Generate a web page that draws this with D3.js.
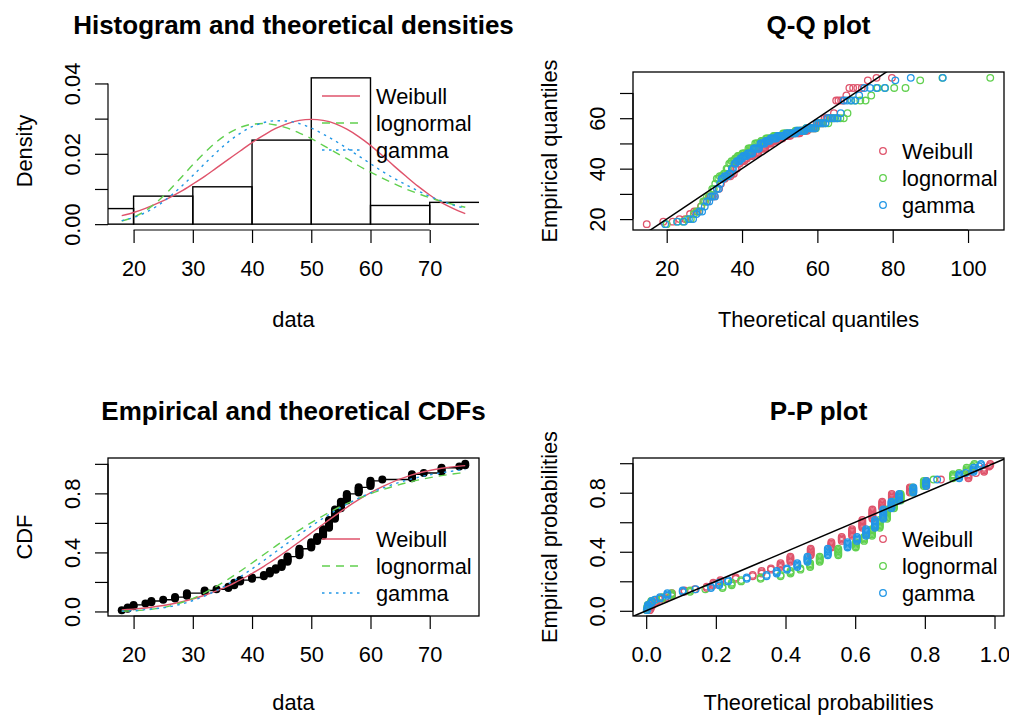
<!DOCTYPE html>
<html>
<head>
<meta charset="utf-8">
<script src="https://cdn.jsdelivr.net/npm/d3@7"></script>
<style>
  body { margin: 0; background: #fff; }
  svg text { font-family: "Liberation Sans", Arial, sans-serif; fill: #000; }
</style>
</head>
<body>
<div class="chart"></div>
<script>
var svgWidth = 1009;
var svgHeight = 715;
var baseFont = 21.8;
var titleFont = 26;

// observed data, sorted unique values and how many times each occurs
var dataValues = [18, 19, 20, 22, 23, 25, 27, 29, 32, 34, 36, 37, 38, 40, 42, 43, 44, 45, 46, 48,
  50, 51, 52, 53, 54, 55, 56, 58, 60, 62, 67, 69, 72, 75, 76];
var dataCounts = [1, 2, 2, 1, 2, 1, 2, 3, 2, 1, 2, 3, 2, 2, 2, 3, 2, 4, 5, 6,
  5, 4, 6, 7, 8, 6, 6, 5, 5, 1, 4, 1, 4, 1, 2];

// histogram
var histBreaks = [10, 20, 30, 40, 50, 60, 70, 80];
var histCounts = [5, 9, 12, 27, 47, 6, 7];

// fitted distributions
var distNames = ["Weibull", "lognormal", "gamma"];
var distColors = ["#DF536B", "#61D04F", "#2297E6"];
var distDash = [null, "8,6", "2.5,4.5"];

// fitted densities
var densX = [18, 20, 22, 24, 26, 28, 30, 32, 34, 36, 38, 40, 42, 44, 46, 48, 50, 52, 54, 56,
  58, 60, 62, 64, 66, 68, 70, 72, 74, 76];
var densWeibull = [.0024, .0033, .0045, .0059, .0075, .0093, .0114, .0136, .0160, .0184, .0208, .0232,
  .0253, .0272, .0286, .0295, .0298, .0295, .0286, .0270, .0249, .0224, .0195, .0165, .0136, .0108,
  .0083, .0061, .0044, .0030];
var densLnorm = [.0009, .0020, .0038, .0064, .0096, .0132, .0169, .0203, .0234, .0258, .0275, .0284,
  .0286, .0282, .0273, .0259, .0243, .0224, .0205, .0186, .0166, .0148, .0131, .0115, .0100, .0087,
  .0075, .0065, .0056, .0048];
var densGamma = [.0010, .0019, .0033, .0052, .0077, .0106, .0138, .0172, .0204, .0234, .0258, .0277,
  .0289, .0294, .0293, .0286, .0273, .0256, .0237, .0216, .0194, .0172, .0150, .0130, .0112, .0095,
  .0079, .0066, .0054, .0045];

// fitted CDFs at each of dataValues
var cdfWeibull = [.0103, .0129, .0160, .0238, .0287, .0404, .0554, .0741, .1099, .1395, .1738, .1928,
  .2131, .2571, .3057, .3314, .3582, .3858, .4140, .4723, .5316, .5614, .5911, .6205, .6494, .6776,
  .7052, .7570, .8043, .8462, .9252, .9468, .9701, .9845, .9878];
var cdfLnorm = [.0016, .0027, .0043, .0101, .0145, .0273, .0465, .0728, .1260, .1699, .2191, .2454,
  .2726, .3286, .3858, .4143, .4427, .4708, .4982, .5515, .6017, .6256, .6484, .6705, .6915, .7114,
  .7306, .7656, .7970, .8249, .8807, .8981, .9200, .9374, .9423];
var cdfGamma = [.0023, .0035, .0051, .0128, .0167, .0246, .0397, .0608, .1048, .1421, .1860, .2096,
  .2353, .2887, .3455, .3747, .4042, .4338, .4630, .5214, .5782, .6053, .6314, .6566, .6807, .7041,
  .7263, .7671, .8038, .8353, .8987, .9173, .9399, .9568, .9614];

// theoretical quantiles, one per sorted observation
var qWeibull = [14.7, 19.1, 21.6, 23.4, 24.9, 26.2, 27.3, 28.2, 29.1, 29.9, 30.7, 31.4, 32.1, 32.7,
  33.3, 33.9, 34.4, 34.9, 35.4, 35.9, 36.4, 36.9, 37.3, 37.8, 38.2, 38.6, 39.0, 39.4, 39.8, 40.2,
  40.6, 40.9, 41.3, 41.6, 42.0, 42.3, 42.7, 43.0, 43.4, 43.7, 44.0, 44.3, 44.7, 45.0, 45.3, 45.6,
  45.9, 46.2, 46.5, 46.8, 47.1, 47.4, 47.7, 48.0, 48.3, 48.6, 48.9, 49.2, 49.5, 49.8, 50.1, 50.4,
  50.7, 51.0, 51.3, 51.6, 51.9, 52.2, 52.5, 52.8, 53.1, 53.4, 53.7, 54.0, 54.3, 54.7, 55.0, 55.3,
  55.6, 55.9, 56.3, 56.6, 56.9, 57.3, 57.6, 58.0, 58.3, 58.7, 59.1, 59.5, 59.8, 60.2, 60.6, 61.1,
  61.5, 61.9, 62.4, 62.9, 63.4, 63.9, 64.4, 65.0, 65.6, 66.3, 67.0, 67.7, 68.5, 69.5, 70.6, 71.8,
  73.4, 75.7, 79.8];
var qLnorm = [20.0, 22.8, 24.3, 25.4, 26.4, 27.2, 27.9, 28.6, 29.2, 29.7, 30.2, 30.7, 31.2, 31.7,
  32.1, 32.5, 32.9, 33.3, 33.7, 34.1, 34.5, 34.8, 35.2, 35.6, 35.9, 36.2, 36.6, 36.9, 37.2, 37.6,
  37.9, 38.2, 38.5, 38.9, 39.2, 39.5, 39.8, 40.1, 40.4, 40.7, 41.1, 41.4, 41.7, 42.0, 42.3, 42.6,
  42.9, 43.2, 43.5, 43.8, 44.1, 44.5, 44.8, 45.1, 45.4, 45.7, 46.1, 46.4, 46.7, 47.1, 47.4, 47.7,
  48.1, 48.4, 48.7, 49.1, 49.4, 49.8, 50.2, 50.5, 50.9, 51.3, 51.7, 52.1, 52.5, 52.9, 53.3, 53.7,
  54.2, 54.6, 55.1, 55.5, 56.0, 56.5, 57.0, 57.5, 58.0, 58.5, 59.1, 59.6, 60.3, 60.9, 61.5, 62.2,
  62.9, 63.6, 64.4, 65.2, 66.1, 67.0, 68.0, 69.0, 70.1, 71.4, 72.8, 74.3, 76.0, 78.0, 80.4, 83.4,
  87.3, 93.2, 105.9];
var qGamma = [19.6, 22.8, 24.6, 25.9, 27.0, 27.9, 28.7, 29.4, 30.1, 30.7, 31.3, 31.8, 32.3, 32.8,
  33.3, 33.8, 34.2, 34.6, 35.0, 35.4, 35.8, 36.2, 36.6, 36.9, 37.3, 37.6, 38.0, 38.3, 38.6, 39.0,
  39.3, 39.6, 40.0, 40.3, 40.6, 40.9, 41.2, 41.5, 41.8, 42.1, 42.4, 42.7, 43.1, 43.4, 43.7, 44.0,
  44.3, 44.5, 44.9, 45.1, 45.4, 45.8, 46.0, 46.3, 46.7, 47.0, 47.3, 47.6, 47.9, 48.2, 48.5, 48.8,
  49.1, 49.4, 49.8, 50.1, 50.4, 50.7, 51.1, 51.4, 51.7, 52.1, 52.4, 52.8, 53.1, 53.5, 53.9, 54.2,
  54.6, 55.0, 55.4, 55.8, 56.2, 56.6, 57.1, 57.5, 58.0, 58.4, 58.9, 59.4, 59.9, 60.4, 60.9, 61.5,
  62.1, 62.7, 63.3, 64.0, 64.7, 65.4, 66.2, 67.0, 67.9, 68.9, 70.0, 71.1, 72.5, 74.0, 75.7, 77.9,
  80.7, 84.8, 93.3];

var densSeries = [densWeibull, densLnorm, densGamma];
var cdfSeries = [cdfWeibull, cdfLnorm, cdfGamma];
var qSeries = [qWeibull, qLnorm, qGamma];

// expand ties into one record per observation
var obs = [];
dataValues.forEach(function(v, k) {
  for (var j = 0; j < dataCounts[k]; j++) obs.push({ v: v, k: k });
});
var n = obs.length;
obs.forEach(function(d, i) {
  d.ecdf = (i + 1) / n;
  d.pp = (i + 0.5) / n;
  d.i = i;
});

// panel placement (plot regions)
var cols = [{ x0: 108, x1: 479 }, { x0: 633, x1: 1004 }];
var rows = [{ y0: 72, y1: 230, xlab: 90 }, { y0: 458, y1: 616, xlab: 87 }];

var svg = d3.select(".chart").append("svg")
  .attr("width", svgWidth)
  .attr("height", svgHeight);

svg.append("rect").attr("width", svgWidth).attr("height", svgHeight).attr("fill", "#fff");

// R style axis range: data range widened by 4% each side
function pad(ext) {
  var r = ext[1] - ext[0];
  return [ext[0] - 0.04 * r, ext[1] + 0.04 * r];
}

var clipCount = 0;
function makePanel(col, row, xdom, ydom, boxed) {
  var c = cols[col], r = rows[row];
  var x = d3.scaleLinear().domain(xdom).range([c.x0, c.x1]);
  var y = d3.scaleLinear().domain(ydom).range([r.y1, r.y0]);
  var id = "clip" + (clipCount++);
  svg.append("clipPath").attr("id", id).append("rect")
    .attr("x", c.x0).attr("y", r.y0)
    .attr("width", c.x1 - c.x0).attr("height", r.y1 - r.y0);
  var g = svg.append("g").attr("clip-path", `url(#${id})`);
  if (boxed) {
    svg.append("rect")
      .attr("x", c.x0).attr("y", r.y0)
      .attr("width", c.x1 - c.x0).attr("height", r.y1 - r.y0)
      .attr("fill", "none").attr("stroke", "#000").attr("stroke-width", 1.3);
  }
  return { x: x, y: y, g: g, c: c, r: r };
}

function xAxis(p, ticks, fmt) {
  var ax = d3.axisBottom(p.x).tickValues(ticks).tickSize(13).tickFormat(fmt);
  var g = svg.append("g")
    .attr("transform", `translate(0, ${p.r.y1})`)
    .call(ax)
    .attr("font-size", baseFont)
    .attr("font-family", null);
  g.select(".domain").remove();
  g.selectAll("line").attr("stroke-width", 1.2);
  g.append("line")
    .attr("x1", p.x(ticks[0])).attr("x2", p.x(ticks[ticks.length - 1]))
    .attr("stroke", "#000").attr("stroke-width", 1.2);
  g.selectAll("text").attr("y", 38).attr("dy", "0.35em");
}

function yAxis(p, ticks, fmt) {
  var ax = d3.axisLeft(p.y).tickValues(ticks).tickSize(13).tickFormat(fmt);
  var g = svg.append("g")
    .attr("transform", `translate(${p.c.x0}, 0)`)
    .call(ax)
    .attr("font-size", baseFont)
    .attr("font-family", null);
  g.select(".domain").remove();
  g.selectAll("line").attr("stroke-width", 1.2);
  g.append("line")
    .attr("y1", p.y(ticks[0])).attr("y2", p.y(ticks[ticks.length - 1]))
    .attr("stroke", "#000").attr("stroke-width", 1.2);
  g.selectAll("text")
    .attr("x", 0).attr("y", -36).attr("dy", "0.35em")
    .attr("text-anchor", "middle")
    .attr("transform", "rotate(-90)");
}

function labels(p, title, xlab, ylab) {
  var cx = (p.c.x0 + p.c.x1) / 2, cy = (p.r.y0 + p.r.y1) / 2;
  svg.append("text").attr("x", cx).attr("y", p.r.y0 - 47).attr("dy", "0.35em")
    .attr("text-anchor", "middle").attr("font-weight", "bold").attr("font-size", titleFont)
    .text(title);
  svg.append("text").attr("x", cx).attr("y", p.r.y1 + p.r.xlab).attr("dy", "0.3em")
    .attr("text-anchor", "middle").attr("font-size", baseFont).text(xlab);
  svg.append("text")
    .attr("transform", `translate(${p.c.x0 - 84}, ${cy}) rotate(-90)`)
    .attr("dy", "0.35em").attr("text-anchor", "middle").attr("font-size", baseFont)
    .text(ylab);
}

function lineLegend(x0, ys) {
  distNames.forEach(function(name, k) {
    svg.append("line")
      .attr("x1", x0).attr("x2", x0 + 38).attr("y1", ys[k]).attr("y2", ys[k])
      .attr("stroke", distColors[k]).attr("stroke-width", 1.4)
      .attr("stroke-dasharray", distDash[k]);
    svg.append("text").attr("x", x0 + 54).attr("y", ys[k]).attr("dy", "0.35em")
      .attr("font-size", baseFont).text(name);
  });
}

function pointLegend(x0, ys) {
  distNames.forEach(function(name, k) {
    svg.append("circle").attr("cx", x0).attr("cy", ys[k]).attr("r", 3.3)
      .attr("fill", "none").attr("stroke", distColors[k]).attr("stroke-width", 1.3);
    svg.append("text").attr("x", x0 + 19).attr("y", ys[k]).attr("dy", "0.35em")
      .attr("font-size", baseFont).text(name);
  });
}

var fmt = function(lab) { return function(d, i) { return lab[i]; }; };

// ---------- Histogram and theoretical densities ----------
var dataExt = pad([dataValues[0], dataValues[dataValues.length - 1]]);
var histDens = histCounts.map(function(c) { return c / (n * 10); });
var hist = makePanel(0, 0, dataExt, pad([0, d3.max(histDens)]), false);

hist.g.selectAll("rect.bar")
  .data(histDens)
  .enter()
  .append("rect")
  .attr("x", (d, i) => hist.x(histBreaks[i]))
  .attr("width", (d, i) => hist.x(histBreaks[i + 1]) - hist.x(histBreaks[i]))
  .attr("y", d => hist.y(d))
  .attr("height", d => hist.y(0) - hist.y(d))
  .attr("fill", "none")
  .attr("stroke", "#000")
  .attr("stroke-width", 1.4);

densSeries.forEach(function(s, k) {
  var line = d3.line().x((d, i) => hist.x(densX[i])).y(d => hist.y(d)).curve(d3.curveMonotoneX);
  hist.g.append("path").datum(s)
    .attr("d", line)
    .attr("fill", "none")
    .attr("stroke", distColors[k])
    .attr("stroke-width", 1.4)
    .attr("stroke-dasharray", distDash[k]);
});

xAxis(hist, [20, 30, 40, 50, 60, 70], fmt(["20", "30", "40", "50", "60", "70"]));
yAxis(hist, [0, 0.01, 0.02, 0.03, 0.04], fmt(["0.00", "", "0.02", "", "0.04"]));
labels(hist, "Histogram and theoretical densities", "data", "Density");
lineLegend(322, [96, 123, 150]);

// ---------- Q-Q plot ----------
var qAll = d3.merge(qSeries);
var qq = makePanel(1, 0, pad(d3.extent(qAll)), dataExt, true);

qSeries.forEach(function(s, k) {
  qq.g.selectAll("circle.q" + k)
    .data(obs)
    .enter()
    .append("circle")
    .attr("cx", d => qq.x(s[d.i]))
    .attr("cy", d => qq.y(d.v))
    .attr("r", 3.3)
    .attr("fill", "none")
    .attr("stroke", distColors[k])
    .attr("stroke-width", 1.3);
});
qq.g.append("line")
  .attr("x1", qq.x(0)).attr("y1", qq.y(0))
  .attr("x2", qq.x(120)).attr("y2", qq.y(120))
  .attr("stroke", "#000").attr("stroke-width", 1.5);

xAxis(qq, [20, 40, 60, 80, 100], fmt(["20", "40", "60", "80", "100"]));
yAxis(qq, [20, 30, 40, 50, 60, 70], fmt(["20", "", "40", "", "60", ""]));
labels(qq, "Q-Q plot", "Theoretical quantiles", "Empirical quantiles");
pointLegend(883, [151, 178, 205]);

// ---------- Empirical and theoretical CDFs ----------
var cdf = makePanel(0, 1, dataExt, pad([1 / n, 1]), true);

cdf.g.append("path").datum(obs)
  .attr("d", d3.line().x(d => cdf.x(d.v)).y(d => cdf.y(d.ecdf)).curve(d3.curveStepAfter))
  .attr("fill", "none").attr("stroke", "#000").attr("stroke-width", 1.4);
cdf.g.selectAll("circle.ecdf")
  .data(obs)
  .enter()
  .append("circle")
  .attr("cx", d => cdf.x(d.v))
  .attr("cy", d => cdf.y(d.ecdf))
  .attr("r", 4)
  .attr("fill", "#000");

cdfSeries.forEach(function(s, k) {
  var line = d3.line().x((d, i) => cdf.x(dataValues[i])).y(d => cdf.y(d)).curve(d3.curveMonotoneX);
  cdf.g.append("path").datum(s)
    .attr("d", line)
    .attr("fill", "none")
    .attr("stroke", distColors[k])
    .attr("stroke-width", 1.4)
    .attr("stroke-dasharray", distDash[k]);
});

xAxis(cdf, [20, 30, 40, 50, 60, 70], fmt(["20", "30", "40", "50", "60", "70"]));
yAxis(cdf, [0, 0.2, 0.4, 0.6, 0.8, 1], fmt(["0.0", "", "0.4", "", "0.8", ""]));
labels(cdf, "Empirical and theoretical CDFs", "data", "CDF");
lineLegend(322, [539, 566, 593]);

// ---------- P-P plot ----------
var pAll = d3.merge(cdfSeries);
var pp = makePanel(1, 1, pad(d3.extent(pAll)), pad([0.5 / n, 1 - 0.5 / n]), true);

cdfSeries.forEach(function(s, k) {
  pp.g.selectAll("circle.p" + k)
    .data(obs)
    .enter()
    .append("circle")
    .attr("cx", d => pp.x(s[d.k]))
    .attr("cy", d => pp.y(d.pp))
    .attr("r", 3.3)
    .attr("fill", "none")
    .attr("stroke", distColors[k])
    .attr("stroke-width", 1.3);
});
pp.g.append("line")
  .attr("x1", pp.x(-1)).attr("y1", pp.y(-1))
  .attr("x2", pp.x(2)).attr("y2", pp.y(2))
  .attr("stroke", "#000").attr("stroke-width", 1.5);

xAxis(pp, [0, 0.2, 0.4, 0.6, 0.8, 1], fmt(["0.0", "0.2", "0.4", "0.6", "0.8", "1.0"]));
yAxis(pp, [0, 0.2, 0.4, 0.6, 0.8, 1], fmt(["0.0", "", "0.4", "", "0.8", ""]));
labels(pp, "P-P plot", "Theoretical probabilities", "Empirical probabilities");
pointLegend(883, [539, 566, 593]);
</script>
</body>
</html>
